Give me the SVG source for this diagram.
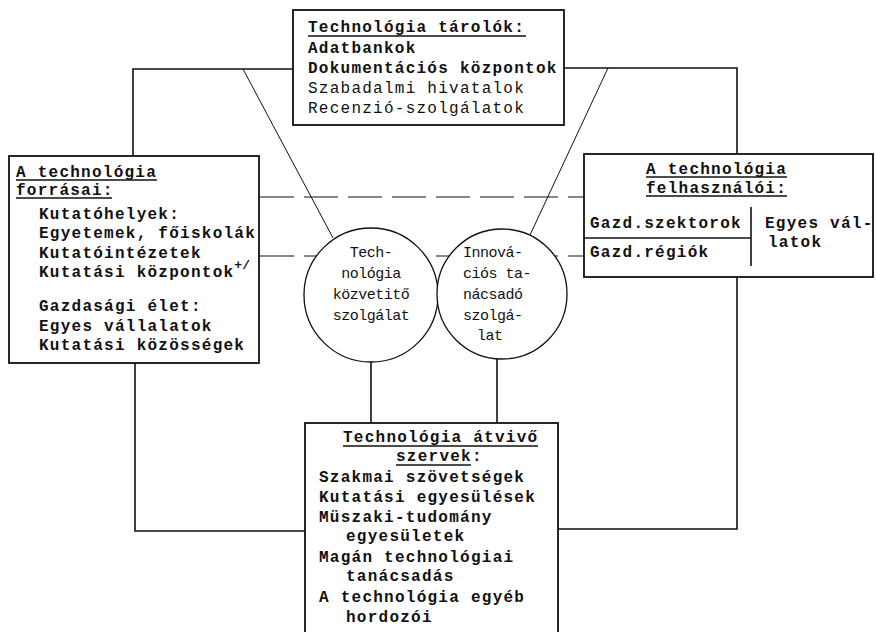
<svg xmlns="http://www.w3.org/2000/svg" width="876" height="632" viewBox="0 0 876 632">
<style>
.bg{fill:#fff}
.box{fill:#fff;stroke:#111;stroke-width:1.8}
.circ{fill:#fff;stroke:#111;stroke-width:1.3}
.ln{fill:none;stroke:#111;stroke-width:1.6}
.thin{fill:none;stroke:#111;stroke-width:1}
.dash{fill:none;stroke:#111;stroke-width:1.2;stroke-dasharray:34 10}
.ul{stroke:#111;stroke-width:1.5}
.div{stroke:#111;stroke-width:1.6}
text{font-family:"Liberation Mono","DejaVu Sans Mono",monospace;font-size:16px;letter-spacing:1.25px;fill:#111}
.b{font-weight:bold}
.c{font-size:15px;letter-spacing:-0.5px}
</style>
<rect class="bg" width="876" height="632"/>
<g id="connectors">
<polyline class="ln" points="133,156 133,69 293,69"/>
<line class="thin" x1="243" y1="69" x2="333" y2="238"/>
<polyline class="ln" points="564,68 737,68 737,154"/>
<line class="thin" x1="608" y1="68" x2="530" y2="235"/>
<line class="dash" x1="260" y1="197" x2="584" y2="197"/>
<line class="dash" x1="260" y1="256" x2="584" y2="256"/>
<line class="ln" x1="371" y1="360" x2="371" y2="423"/>
<line class="ln" x1="497" y1="358" x2="497" y2="423"/>
<polyline class="ln" points="135,363 135,531 305,531"/>
<polyline class="ln" points="737,277 737,529 558,529"/>
</g>
<g id="tarolok">
<rect class="box" x="293" y="10" width="271" height="115"/>
<text class="b" x="308" y="32">Technológia tárolók:</text>
<line class="ul" x1="308" y1="36" x2="526" y2="36"/>
<text class="b" x="308" y="53">Adatbankok</text>
<text class="b" x="308" y="73">Dokumentációs központok</text>
<text x="308" y="93">Szabadalmi hivatalok</text>
<text x="308" y="113">Recenzió-szolgálatok</text>
</g>
<g id="forrasai">
<rect class="box" x="9" y="156" width="250" height="207"/>
<text class="b" x="16" y="177">A technológia</text>
<line class="ul" x1="16" y1="180" x2="157" y2="180"/>
<text class="b" x="16" y="195">forrásai:</text>
<line class="ul" x1="16" y1="198" x2="112" y2="198"/>
<text class="b" x="39" y="219">Kutatóhelyek:</text>
<text class="b" x="39" y="238">Egyetemek, főiskolák</text>
<text class="b" x="39" y="258">Kutatóintézetek</text>
<text class="b" x="39" y="277">Kutatási központok<tspan font-size="13" letter-spacing="0" dy="-8">+/</tspan></text>
<text class="b" x="39" y="311">Gazdasági élet:</text>
<text class="b" x="39" y="331">Egyes vállalatok</text>
<text class="b" x="39" y="350">Kutatási közösségek</text>
</g>
<g id="felhasznaloi">
<rect class="box" x="584" y="154" width="289" height="123"/>
<text class="b" x="646" y="174">A technológia</text>
<line class="ul" x1="646" y1="177" x2="787" y2="177"/>
<text class="b" x="646" y="193">felhasználói:</text>
<line class="ul" x1="646" y1="196" x2="787" y2="196"/>
<line class="div" x1="584" y1="238" x2="751" y2="238"/>
<line class="div" x1="751" y1="207" x2="751" y2="266"/>
<text class="b" x="590" y="228">Gazd.szektorok</text>
<text class="b" x="590" y="257">Gazd.régiók</text>
<text class="b" x="765" y="228">Egyes vál-</text>
<text class="b" x="768" y="247">latok</text>
</g>
<g id="kozvetito">
<circle class="circ" cx="371" cy="295" r="67"/>
<text class="c" x="371" y="257" text-anchor="middle">Tech-</text>
<text class="c" x="371" y="278" text-anchor="middle">nológia</text>
<text class="c" x="371" y="299" text-anchor="middle">közvetitő</text>
<text class="c" x="371" y="320" text-anchor="middle">szolgálat</text>
</g>
<g id="innovacios">
<circle class="circ" cx="502" cy="294" r="65"/>
<text class="c" x="463" y="257">Innová-</text>
<text class="c" x="463" y="278">ciós ta-</text>
<text class="c" x="463" y="299">nácsadó</text>
<text class="c" x="463" y="320">szolgá-</text>
<text class="c" x="477" y="340">lat</text>
</g>
<g id="atvivo">
<rect class="box" x="305" y="423" width="253" height="220"/>
<text class="b" x="343" y="442">Technológia átvivő</text>
<line class="ul" x1="343" y1="446" x2="538" y2="446"/>
<text class="b" x="396" y="461">szervek:</text>
<line class="ul" x1="396" y1="465" x2="471" y2="465"/>
<text class="b" x="319" y="482">Szakmai szövetségek</text>
<text class="b" x="319" y="502">Kutatási egyesülések</text>
<text class="b" x="319" y="522">Müszaki-tudomány</text>
<text class="b" x="346" y="541">egyesületek</text>
<text class="b" x="319" y="562">Magán technológiai</text>
<text class="b" x="346" y="581">tanácsadás</text>
<text class="b" x="319" y="602">A technológia egyéb</text>
<text class="b" x="346" y="622">hordozói</text>
</g>
</svg>
